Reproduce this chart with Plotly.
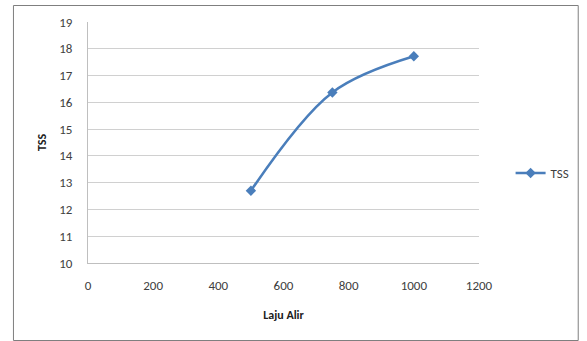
import plotly.graph_objects as go

laju_alir = [500, 750, 1000]
tss = [12.7, 16.37, 17.72]
x_ticks = [0, 200, 400, 600, 800, 1000, 1200]
y_ticks = [10, 11, 12, 13, 14, 15, 16, 17, 18, 19]

W, H = 587, 341
L, R, T, B = 88, 484, 22, 263  # plot area pixels

def px_to_paper_x(px):
    return (px - L) / (R - L)

def px_to_paper_y(py):
    return (B - py) / (B - T)

font_family = "Calibri, Carlito, Lato, Open Sans, sans-serif"

fig = go.Figure()
fig.add_trace(go.Scatter(
    x=laju_alir, y=tss, mode="lines+markers", name="TSS",
    line=dict(color="#4A7EBB", width=2.5, shape="spline", smoothing=1.0),
    marker=dict(symbol="diamond", size=8, color="#4A7EBB"),
))

fig.update_layout(
    width=W, height=H,
    margin=dict(l=L, r=W - R, t=T, b=H - B),
    paper_bgcolor="white", plot_bgcolor="white",
    font=dict(family=font_family, size=13, color="#404040"),
    showlegend=True,
    legend=dict(x=px_to_paper_x(516), y=px_to_paper_y(173), xanchor="left", yanchor="middle",
                font=dict(size=13, color="#404040"), bgcolor="rgba(0,0,0,0)",
                itemwidth=30),
    xaxis=dict(range=[0, 1200], tickvals=x_ticks, showgrid=False, zeroline=False,
               showline=True, linecolor="#BFBFBF", linewidth=1, ticks="",
               ticklabelstandoff=10,
               tickfont=dict(size=13, color="#404040"),
               title=dict(text="<b>Laju Alir</b>", font=dict(size=12, color="#202020"), standoff=19)),
    yaxis=dict(range=[10, 19], tickvals=y_ticks, showgrid=True, gridcolor="#D0D0D0", gridwidth=1,
               zeroline=False, showline=True, linecolor="#BFBFBF", linewidth=1, ticks="",
               ticklabelstandoff=12,
               tickfont=dict(size=13, color="#404040"),
               title=dict(text="<b>TSS</b>", font=dict(size=12, color="#202020"), standoff=10)),
    shapes=[dict(type="rect", xref="paper", yref="paper",
                 x0=px_to_paper_x(12.5), x1=px_to_paper_x(584.5),
                 y0=px_to_paper_y(340.5), y1=px_to_paper_y(5.5),
                 line=dict(color="#7F7F7F", width=1), fillcolor="rgba(0,0,0,0)", layer="below")],
)

fig.write_html("out.html")
